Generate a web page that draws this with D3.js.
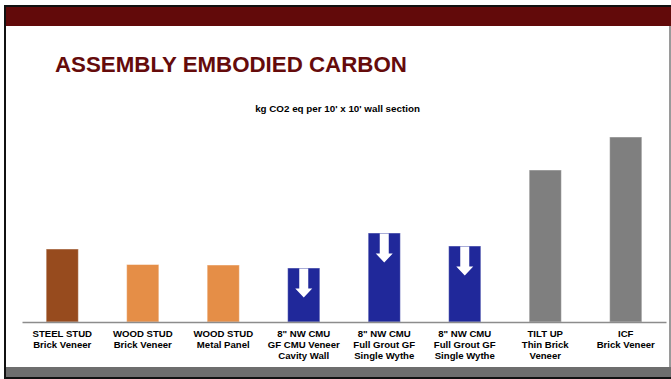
<!DOCTYPE html>
<html>
<head>
<meta charset="utf-8">
<script src="https://cdn.jsdelivr.net/npm/d3@7"></script>
<style>
  body { margin: 0; background: #fff; }
  svg { display: block; font-family: Arial, "Liberation Sans", sans-serif; }
</style>
</head>
<body>
<div id="chart"></div>
<script>
// wall assemblies, one label line per array entry
const categories = [
    ["STEEL STUD", "Brick Veneer"],
    ["WOOD STUD", "Brick Veneer"],
    ["WOOD STUD", "Metal Panel"],
    ["8\" NW CMU", "GF CMU Veneer", "Cavity Wall"],
    ["8\" NW CMU", "Full Grout GF", "Single Wythe"],
    ["8\" NW CMU", "Full Grout GF", "Single Wythe"],
    ["TILT UP", "Thin Brick", "Veneer"],
    ["ICF", "Brick Veneer"]
]

// kg CO2 eq per 10' x 10' wall section (no axis in source)
const values = [730, 575, 570, 540, 890, 760, 1520, 1850]

// which family each wall belongs to (drives colour + arrow)
const groups = ["steel", "wood", "wood", "cmu", "cmu", "cmu", "concrete", "concrete"]

const W = 671, H = 379

var svg = d3.select("#chart")
    .append("svg")
    .attr("width", W)
    .attr("height", H)

// slide frame
svg.append("rect").attr("x", 4).attr("y", 5).attr("width", W - 4).attr("height", 2).attr("fill", "#111")
svg.append("rect").attr("x", 6).attr("y", 7).attr("width", W - 6).attr("height", 19).attr("fill", "#620a0a")
svg.append("rect").attr("x", 4).attr("y", 5).attr("width", 2).attr("height", H - 5).attr("fill", "#111")
svg.append("rect").attr("x", 669).attr("y", 26).attr("width", 2).attr("height", 341).attr("fill", "#9a9a9a")
svg.append("rect").attr("x", 6).attr("y", 367).attr("width", W - 6).attr("height", 10).attr("fill", "#6e6e6e")
svg.append("rect").attr("x", 4).attr("y", 377).attr("width", W - 4).attr("height", 2).attr("fill", "#111")

// title
svg.append("text")
    .attr("x", 55)
    .attr("y", 72)
    .attr("fill", "#650b0b")
    .style("font-size", "22.3px")
    .style("font-weight", "bold")
    .text("ASSEMBLY EMBODIED CARBON")

svg.append("text")
    .attr("x", 337.5)
    .attr("y", 111.5)
    .attr("text-anchor", "middle")
    .attr("fill", "#000")
    .style("font-size", "9.8px")
    .style("font-weight", "bold")
    .text("kg CO2 eq per 10' x 10' wall section")

// scales
const idx = d3.range(categories.length)
const x = d3.scaleBand()
    .domain(idx)
    .range([22, 666])
    .paddingInner(0.6)
    .paddingOuter(0.3)

const y = d3.scaleLinear()
    .domain([0, 2000])
    .range([322, 122])

const color = d3.scaleOrdinal()
    .domain(["steel", "wood", "cmu", "concrete"])
    .range(["#974b1e", "#e58e47", "#20289a", "#7f7f7f"])

// bars
svg.append("g")
    .selectAll("rect")
    .data(idx)
    .enter()
    .append("rect")
    .attr("x", i => x(i))
    .attr("y", i => y(values[i]))
    .attr("width", x.bandwidth())
    .attr("height", i => y(0) - y(values[i]))
    .attr("fill", i => color(groups[i]))
    .attr("stroke", "rgba(255,255,255,0.45)")
    .attr("stroke-width", 1)

// white down arrows on the CMU bars
function arrowPath(cx, top) {
    const sw = 4.5, sl = 20, hw = 8.5, hl = 9
    return d3.line()([
        [cx - sw, top], [cx + sw, top], [cx + sw, top + sl], [cx + hw, top + sl],
        [cx, top + sl + hl], [cx - hw, top + sl], [cx - sw, top + sl]
    ]) + "Z"
}

svg.append("g")
    .selectAll("path")
    .data(idx.filter(i => groups[i] === "cmu"))
    .enter()
    .append("path")
    .attr("d", i => arrowPath(x(i) + x.bandwidth() / 2, y(values[i]) + 0.5))
    .attr("fill", "#fff")

// category axis
var axis = svg.append("g")
    .attr("transform", "translate(0," + y(0) + ")")
    .call(d3.axisBottom(x).tickSize(0).tickSizeOuter(0).tickFormat(""))

axis.select(".domain")
    .attr("stroke", "#8c8c8c")
    .attr("stroke-width", 1.5)

axis.selectAll(".tick text").remove()
axis.selectAll(".tick")
    .append("text")
    .attr("fill", "#000")
    .attr("text-anchor", "middle")
    .style("font-size", "9.6px")
    .style("font-weight", "bold")
    .style("font-family", "Arial, 'Liberation Sans', sans-serif")
    .selectAll("tspan")
    .data(i => categories[i])
    .enter()
    .append("tspan")
    .attr("x", 0)
    .attr("y", (d, k) => 15 + k * 11)
    .text(d => d)
</script>
</body>
</html>
